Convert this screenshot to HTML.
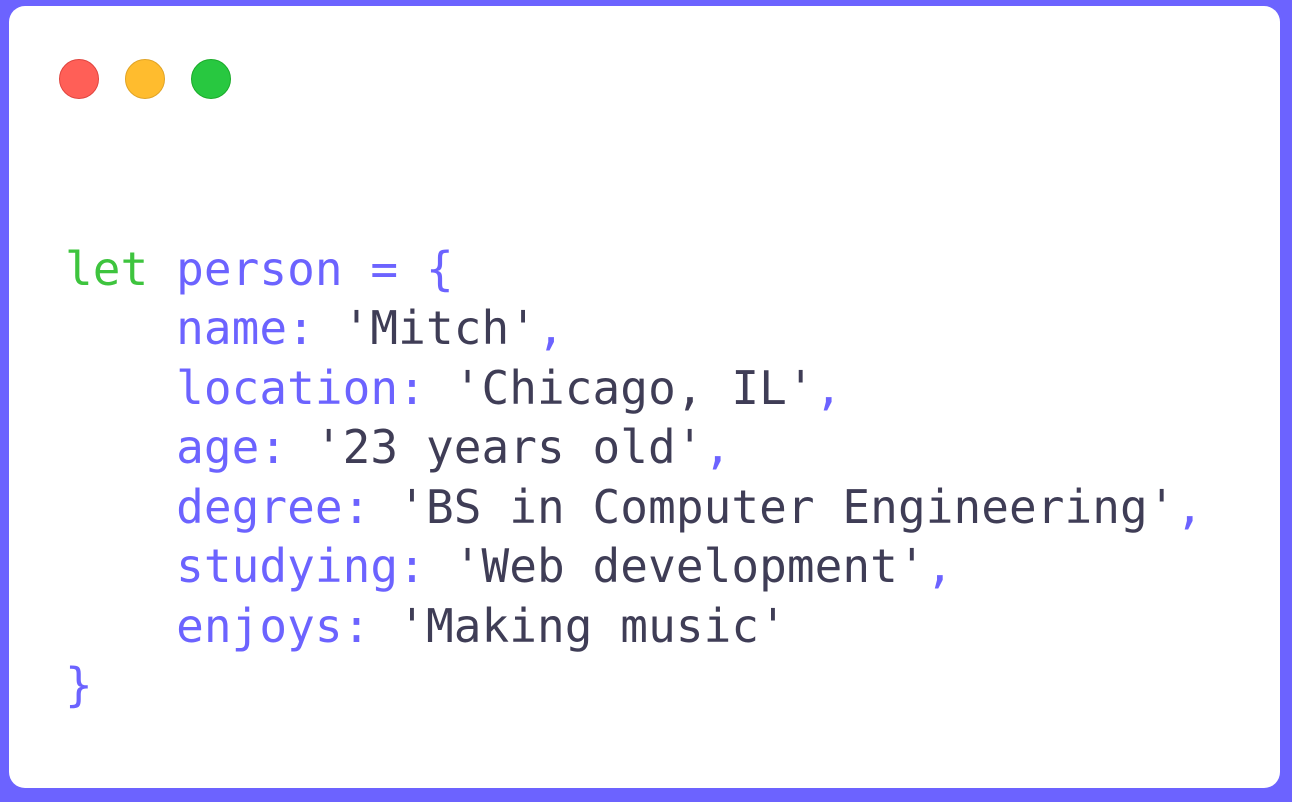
<!DOCTYPE html>
<html><head><meta charset="utf-8"><style>
html,body{margin:0;padding:0}
body{width:1292px;height:802px;background:#6c63ff;position:relative;overflow:hidden}
.card{position:absolute;left:9px;top:6px;width:1271px;height:782px;background:#fff;border-radius:16px}
.dot{position:absolute;width:40px;height:40px;border-radius:50%;top:59px;box-sizing:border-box}
pre{position:absolute;left:65px;top:239.5px;margin:0;font-family:"DejaVu Sans Mono","Liberation Mono",monospace;font-size:46px;letter-spacing:0.07px;line-height:59.5px;color:#3f3d56}
.k{color:#3ec43e}.p{color:#6c63ff}
</style></head><body>
<div class="card"></div>
<div class="dot" style="left:59px;background:#ff5f57;border:1px solid #e0443e"></div>
<div class="dot" style="left:125px;background:#ffbc2e;border:1px solid #e0a325"></div>
<div class="dot" style="left:191px;background:#28c840;border:1px solid #1aab29"></div>
<pre><span class="k">let</span> <span class="p">person = {</span>
    <span class="p">name:</span> 'Mitch'<span class="p">,</span>
    <span class="p">location:</span> 'Chicago, IL'<span class="p">,</span>
    <span class="p">age:</span> '23 years old'<span class="p">,</span>
    <span class="p">degree:</span> 'BS in Computer Engineering'<span class="p">,</span>
    <span class="p">studying:</span> 'Web development'<span class="p">,</span>
    <span class="p">enjoys:</span> 'Making music'
<span class="p">}</span></pre>
</body></html>
